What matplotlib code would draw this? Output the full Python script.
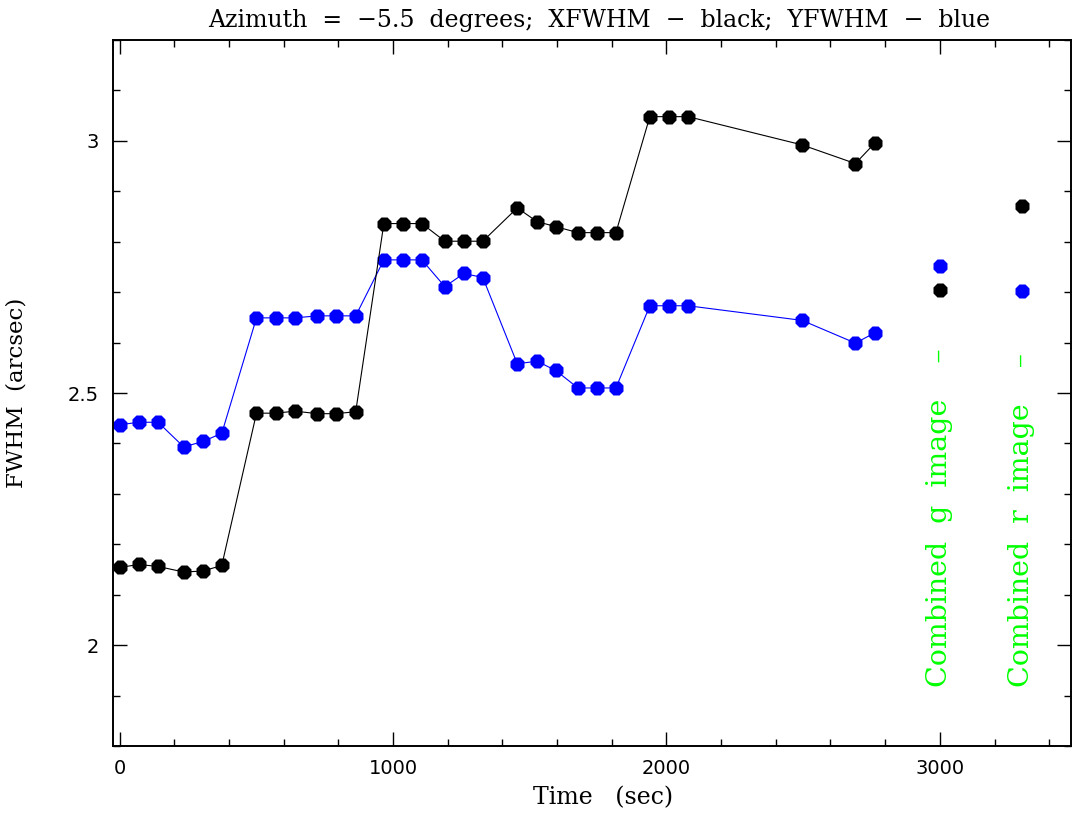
import matplotlib
matplotlib.use('Agg')
import matplotlib.pyplot as plt
from matplotlib.ticker import MultipleLocator, FuncFormatter

# exposure times (sec) and FWHM (arcsec)
time_sec = [0, 69, 140, 234, 304, 373, 500, 570, 641, 723, 792, 863,
            966, 1036, 1105, 1189, 1259, 1328, 1454, 1526, 1594, 1676, 1745, 1815,
            1939, 2008, 2079, 2496, 2691, 2761]
xfwhm = [2.154, 2.160, 2.156, 2.145, 2.147, 2.158, 2.460, 2.460, 2.464, 2.459, 2.459, 2.463,
         2.836, 2.836, 2.836, 2.801, 2.801, 2.801, 2.867, 2.840, 2.830, 2.818, 2.818, 2.818,
         3.048, 3.048, 3.048, 2.992, 2.955, 2.995]
yfwhm = [2.437, 2.442, 2.442, 2.393, 2.404, 2.420, 2.649, 2.649, 2.649, 2.653, 2.653, 2.653,
         2.764, 2.764, 2.764, 2.711, 2.737, 2.729, 2.558, 2.563, 2.545, 2.510, 2.510, 2.510,
         2.673, 2.673, 2.673, 2.644, 2.599, 2.619]

# combined images (g at 3000, r at 3300)
comb_time = [3000, 3300]
comb_xfwhm = [2.704, 2.871]
comb_yfwhm = [2.751, 2.703]
comb_labels = ['Combined  g  image    \u2013', 'Combined  r  image    \u2013']

SERIF = 'DejaVu Serif'

fig = plt.figure(figsize=(10.72, 8.13), dpi=100)
ax = fig.add_axes([0.1054, 0.0824, 0.8937, 0.8684])

ax.plot(time_sec, yfwhm, color='blue', lw=0.8, marker='8', ms=11.5, mec='none')
ax.plot(time_sec, xfwhm, color='black', lw=0.8, marker='8', ms=11.5, mec='none')
ax.plot(comb_time, comb_yfwhm, ls='none', color='blue', marker='8', ms=11.5, mec='none')
ax.plot(comb_time, comb_xfwhm, ls='none', color='black', marker='8', ms=11.5, mec='none')

for t, lab in zip(comb_time, comb_labels):
    ax.text(t, 1.917, lab, rotation=90, ha='center', va='bottom', color='#00ff00',
            family=SERIF, fontsize=20.5)

ax.set_xlim(-25, 3480)
ax.set_ylim(1.8, 3.2)
ax.xaxis.set_major_locator(MultipleLocator(1000))
ax.xaxis.set_minor_locator(MultipleLocator(200))
ax.yaxis.set_major_locator(MultipleLocator(0.5))
ax.yaxis.set_minor_locator(MultipleLocator(0.1))
ax.yaxis.set_major_formatter(FuncFormatter(lambda v, p: '%g' % v))

ax.tick_params(which='both', direction='in', top=True, right=True, width=1.0, labelsize=14)
ax.tick_params(which='major', length=10)
ax.tick_params(which='minor', length=5)
ax.tick_params(axis='x', pad=9)
ax.tick_params(axis='y', pad=10)
for s in ax.spines.values():
    s.set_linewidth(1.4)

ax.set_title('Azimuth  =  \u22125.5  degrees;  XFWHM  \u2212  black;  YFWHM  \u2212  blue',
             fontsize=17, family=SERIF, pad=9, x=0.508)
ax.set_xlabel('Time   (sec)', fontsize=17, family=SERIF)
ax.set_ylabel('FWHM  (arcsec)', fontsize=16.5, family=SERIF)
ax.xaxis.set_label_coords(0.512, -0.057)
ax.yaxis.set_label_coords(-0.089, 0.5)

fig.savefig('out.png', dpi=100)
